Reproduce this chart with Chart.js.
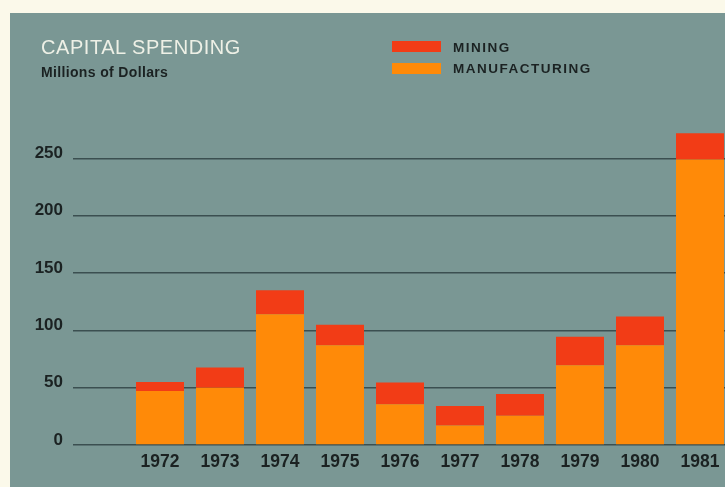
<!DOCTYPE html>
<html>
<head>
<meta charset="utf-8">
<script src="https://cdn.jsdelivr.net/npm/chart.js@4/dist/chart.umd.min.js"></script>
<style>
  html, body { margin: 0; padding: 0; width: 725px; height: 487px; overflow: hidden; background: #fbf9ea; }
  #panel { position: absolute; left: 10px; top: 13px; width: 715px; height: 474px; background: #7a9794; }
  #wrap { position: absolute; left: 0; top: 0; width: 730px; height: 487px; }
  .t { position: absolute; font-family: "Liberation Sans", Arial, sans-serif; line-height: 1; white-space: nowrap; }
  #title { left: 41px; top: 37px; font-size: 20px; color: #eef0e6; letter-spacing: 0.55px; }
  #sub { left: 41px; top: 65px; font-size: 14px; font-weight: bold; color: #1b2222; letter-spacing: 0.35px; }
  .lg { font-size: 13.5px; font-weight: bold; color: #1b2222; letter-spacing: 1.5px; left: 453px; }
  .box { position: absolute; left: 392px; width: 49px; height: 11px; }
</style>
</head>
<body>
<div id="panel"></div>
<div id="wrap"><canvas id="c" width="730" height="487"></canvas></div>
<div class="t" id="title">CAPITAL SPENDING</div>
<div class="t" id="sub">Millions of Dollars</div>
<div class="box" style="top:41px;background:#f23c16;"></div>
<div class="t lg" style="top:41px;">MINING</div>
<div class="box" style="top:63px;background:#ff8a08;"></div>
<div class="t lg" style="top:62px;">MANUFACTURING</div>
<script>
const years = ['1972','1973','1974','1975','1976','1977','1978','1979','1980','1981'];
const manufacturing = [47, 50, 114, 87, 35.5, 17, 25.5, 69.5, 87, 249];
const mining = [8, 17.5, 21, 18, 19, 17, 19, 25, 25, 23];
const yTicks = [0, 50, 100, 150, 200, 250];

new Chart(document.getElementById('c'), {
  type: 'bar',
  data: {
    labels: years,
    datasets: [
      { label: 'MANUFACTURING', data: manufacturing, backgroundColor: '#ff8a08', borderWidth: 0 },
      { label: 'MINING', data: mining, backgroundColor: '#f23c16', borderWidth: 0 }
    ]
  },
  options: {
    responsive: false,
    animation: false,
    layout: { padding: { top: 124, right: 0, bottom: 0, left: 0 } },
    plugins: { legend: { display: false }, tooltip: { enabled: false } },
    datasets: { bar: { categoryPercentage: 1, barPercentage: 0.8 } },
    scales: {
      x: {
        stacked: true,
        grid: { display: false, drawTicks: false },
        border: { display: false },
        ticks: { color: '#1b2222', padding: 7, font: { family: 'Liberation Sans', size: 17.5, weight: 'bold' } },
        afterFit: s => { s.height = 42; }
      },
      y: {
        stacked: true,
        min: 0, max: 280,
        afterBuildTicks: s => { s.ticks = yTicks.map(v => ({ value: v })); },
        grid: { color: '#3b4f50', lineWidth: 1.5, drawTicks: true, tickLength: 57 },
        border: { display: false },
        ticks: { color: '#1b2222', padding: 10, labelOffset: -5, font: { family: 'Liberation Sans', size: 17, weight: 'bold' } },
        afterFit: s => { s.width = 130; }
      }
    }
  }
});
</script>
</body>
</html>
